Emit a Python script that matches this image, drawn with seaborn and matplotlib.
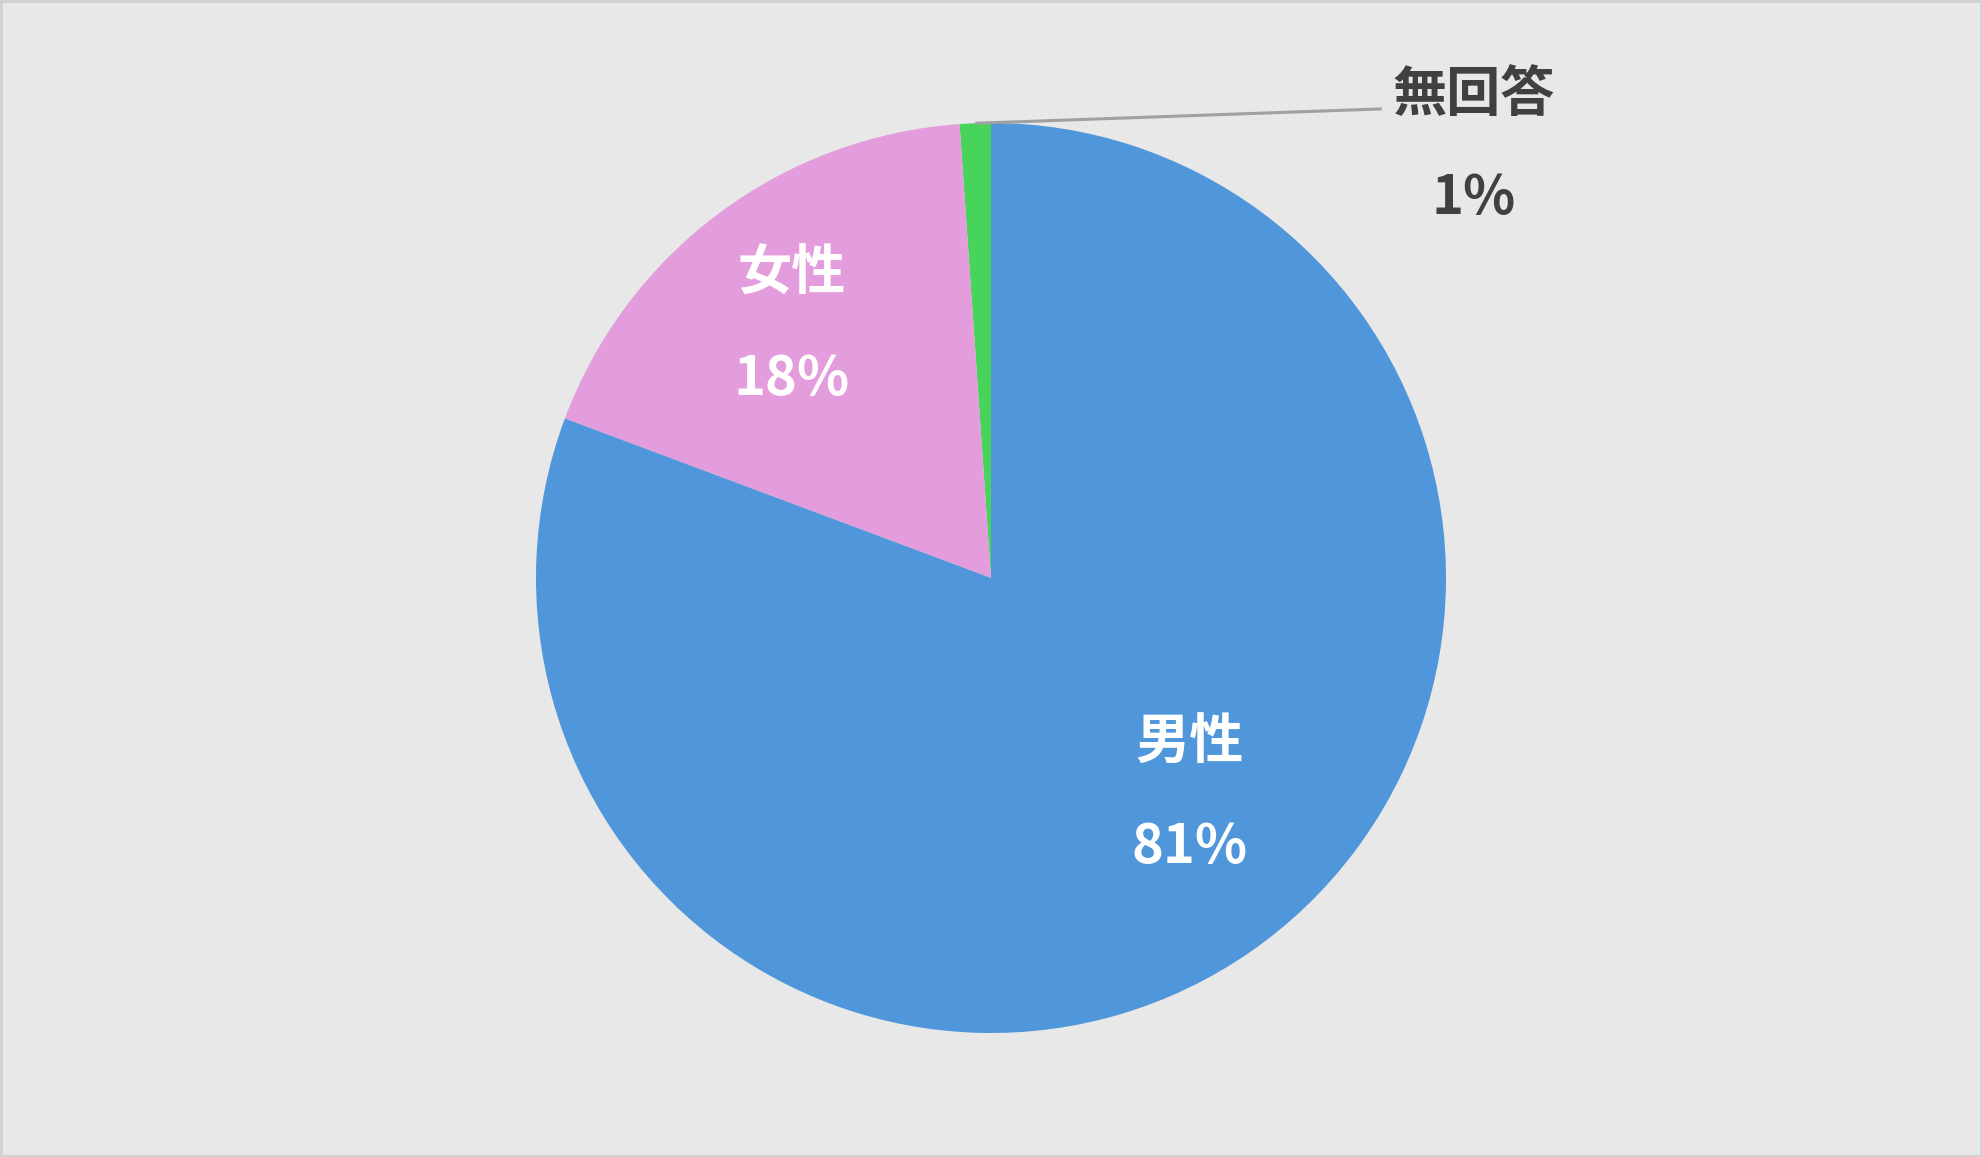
import numpy as np
import matplotlib
matplotlib.use("Agg")
import matplotlib.pyplot as plt
from matplotlib.patches import Rectangle
import seaborn as sns

# data (order: counter-clockwise from 12 o'clock)
labels = ["無回答", "女性", "男性"]
shares = [1.1, 18.2, 80.7]
pct_text = ["1%", "18%", "81%"]
colors = ["#48d35a", "#e39ddc", "#4f96da"]

sns.set_theme(style="white")
plt.rcParams["font.family"] = ["Noto Sans CJK JP", "DejaVu Sans"]

W, H = 1982, 1157
fig = plt.figure(figsize=(W / 100, H / 100), dpi=100)
fig.patch.set_facecolor("#e8e8e8")
ax = fig.add_axes([0, 0, 1, 1])
ax.set_facecolor("#e8e8e8")

wedges, _ = ax.pie(shares, colors=sns.color_palette(colors), startangle=90,
                   counterclock=True, radius=1,
                   wedgeprops=dict(linewidth=0))

# pie center at (991, 578) px, radius 455 px
r_px = 455
cx, cy = 991, H - 578
ax.set_xlim(-cx / r_px, (W - cx) / r_px)
ax.set_ylim(-cy / r_px, (H - cy) / r_px)
ax.set_aspect("equal")
ax.axis("off")

fs = 39
# inside labels (label line and percentage line)
inside_pos = {"女性": (-0.438, 0.552), "男性": (0.437, -0.478)}
gap = 0.115
for lab, pct in zip(labels, pct_text):
    if lab in inside_pos:
        x, y = inside_pos[lab]
        ax.text(x, y + gap, lab, ha="center", va="center", color="white",
                fontsize=fs, fontweight="bold")
        ax.text(x, y - gap, pct, ha="center", va="center", color="white",
                fontsize=fs, fontweight="bold")

# outside label for the small slice, with a leader line
w = wedges[0]
mid = np.deg2rad((w.theta1 + w.theta2) / 2)
start = (np.cos(mid), np.sin(mid))
end = (0.859, 1.031)
ax.plot([start[0], end[0]], [start[1], end[1]], color="#a0a0a0", lw=2.2,
        solid_capstyle="butt")
ax.text(1.061, 1.060, labels[0], ha="center", va="center", color="#404040",
        fontsize=fs, fontweight="bold")
ax.text(1.061, 0.835, pct_text[0], ha="center", va="center", color="#404040",
        fontsize=fs, fontweight="bold")

# thin frame around the chart
fig.patches.append(Rectangle((0.0005, 0.0008), 0.999, 0.9985,
                             transform=fig.transFigure, fill=False,
                             edgecolor="#d0d0d0", lw=2))

fig.savefig("out.png", dpi=100, facecolor=fig.get_facecolor())
